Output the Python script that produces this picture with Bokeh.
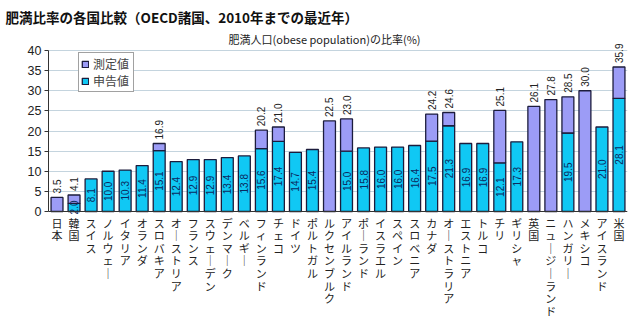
import math
from bokeh.plotting import figure
from bokeh.models import (ColumnDataSource, Range1d, FactorRange, Label, LabelSet,
                          Legend, LegendItem)
from bokeh.embed import file_html
from bokeh.resources import INLINE
from bokeh.core.properties import value

countries = ["日本", "韓国", "スイス", "ノルウェー", "イタリア", "オランダ", "スロバキア",
             "オーストリア", "フランス", "スウェーデン", "デンマーク", "ベルギー", "フィンランド",
             "チェコ", "ドイツ", "ポルトガル", "ルクセンブルク", "アイルランド", "ポーランド",
             "イスラエル", "スペイン", "スロベニア", "カナダ", "オーストラリア", "エストニア",
             "トルコ", "チリ", "ギリシャ", "英国", "ニュージーランド", "ハンガリー", "メキシコ",
             "アイスランド", "米国"]
# 申告値 (self-reported)
reported = [None, 2.0, 8.1, 10.0, 10.3, 11.4, 15.1, 12.4, 12.9, 12.9, 13.4, 13.8, 15.6,
            17.4, 14.7, 15.4, None, 15.0, 15.8, 16.0, 16.0, 16.4, 17.5, 21.3, 16.9,
            16.9, 12.1, 17.3, None, None, 19.5, None, 21.0, 28.1]
# 測定値 (measured)
measured = [3.5, 4.1, None, None, None, None, 16.9, None, None, None, None, None, 20.2,
            21.0, None, None, 22.5, 23.0, None, None, None, None, 24.2, 24.6, None,
            None, 25.1, None, 26.1, 27.8, 28.5, 30.0, None, 35.9]
y_ticks = [0, 5, 10, 15, 20, 25, 30, 35, 40]

title_text = "肥満比率の各国比較（OECD諸国、2010年までの最近年）"
subtitle_text = "肥満人口(obese population)の比率(%)"

CYAN = "#10c8f4"
PURPLE = "#9c9cf6"
EDGE = "#1c1c3c"
JP = "Noto Sans CJK JP"

# ---- layout (pixels) ----
W, H = 640, 324
LEFT, RIGHT = 48, 13
FRAME_TOP = 28          # frame top (canvas px)
Y40_PX, Y0_PX = 50, 211  # canvas px of value 40 and 0
ppu = (Y0_PX - Y40_PX) / 40.0
y_hi = 40 + (Y40_PX - FRAME_TOP) / ppu
y_lo = -(H - Y0_PX) / ppu


def px_to_y(py):
    return (Y0_PX - py) / ppu


rep_src = ColumnDataSource(dict(
    x=[c for c, r in zip(countries, reported) if r is not None],
    top=[r for r in reported if r is not None],
    mid=[r / 2 for r in reported if r is not None],
    lab=["%.1f" % r for r in reported if r is not None],
))
mea_src = ColumnDataSource(dict(
    x=[c for c, m in zip(countries, measured) if m is not None],
    bottom=[(r if r is not None else 0) for r, m in zip(reported, measured) if m is not None],
    top=[m for m in measured if m is not None],
    lab=["%.1f" % m for m in measured if m is not None],
))

# vertical category labels: one glyph per character (vertical writing)
cx, cy, ct = [], [], []
for c in countries:
    for k, ch in enumerate(c.replace("ー", "｜")):
        cx.append(c)
        cy.append(px_to_y(Y0_PX + 11 + k * 12.6))
        ct.append(ch)
char_src = ColumnDataSource(dict(x=cx, y=cy, t=ct))

p = figure(width=W, height=H, x_range=FactorRange(*countries),
           y_range=Range1d(y_lo, y_hi), output_backend="svg", toolbar_location=None,
           min_border_left=LEFT, min_border_right=RIGHT, min_border_top=FRAME_TOP,
           min_border_bottom=0)
p.outline_line_color = None
p.background_fill_color = "white"

cyan_r = p.vbar(x="x", top="top", bottom=0, width=0.7, source=rep_src,
                fill_color=CYAN, line_color=EDGE, line_width=1.3)
purple_r = p.vbar(x="x", top="top", bottom="bottom", width=0.7, source=mea_src,
                  fill_color=PURPLE, line_color=EDGE, line_width=1.3)

p.text(x="x", y="mid", text="lab", source=rep_src,
       angle=math.pi / 2, text_align="center", text_baseline="middle",
       text_font=value("Liberation Sans"), text_font_size="10px", text_color="#0a2a60")
p.add_layout(LabelSet(x="x", y="top", text="lab", source=mea_src, angle=math.pi / 2,
                      y_offset=4, text_align="left", text_baseline="middle",
                      text_font=value("Liberation Sans"), text_font_size="10px",
                      text_color="#222222"))

p.text(x="x", y="y", text="t", source=char_src, text_align="center",
       text_baseline="middle", text_font=value(JP), text_font_size="11px",
       text_color="#222222")

# axes
p.yaxis.ticker = y_ticks
p.yaxis.bounds = (0, 40)
p.yaxis.major_label_text_font = "Liberation Sans"
p.yaxis.major_label_text_font_size = "12.5px"
p.yaxis.major_label_text_color = "#222222"
p.yaxis.axis_line_color = "#333333"
p.yaxis.major_tick_line_color = "#333333"
p.yaxis.major_tick_out = 4
p.yaxis.major_tick_in = 0
p.yaxis.minor_tick_line_color = None
p.yaxis.major_label_standoff = 3

p.xaxis.fixed_location = 0
p.xaxis.major_label_text_font_size = "0px"
p.xaxis.major_label_text_alpha = 0
p.xaxis.major_tick_line_color = None
p.xaxis.axis_line_color = "#333333"
p.xaxis.group_text_font_size = "0px"

p.xgrid.grid_line_color = None
p.ygrid.grid_line_color = "#c4d4de"
p.ygrid.grid_line_width = 1

legend = Legend(items=[LegendItem(label="測定値", renderers=[purple_r]),
                       LegendItem(label="申告値", renderers=[cyan_r])],
                location=(30, H - 92), label_text_font=JP, label_text_font_size="12px",
                glyph_width=8, glyph_height=8, label_height=12, label_width=38,
                label_standoff=4, spacing=0, padding=2, margin=0,
                border_line_color="#444444", border_line_width=1,
                background_fill_color="white", background_fill_alpha=1.0)
p.add_layout(legend)

p.title.text = title_text
p.title.align = "left"
p.title.offset = -43
p.title.text_font = JP
p.title.text_font_size = "13.5px"
p.title.text_font_style = "bold"
p.title.text_color = "#111111"
p.title.standoff = 3

p.add_layout(Label(x=(324 - LEFT) / ((W - LEFT - RIGHT) / len(countries)),
                   y=px_to_y(38), text=subtitle_text,
                   text_font=JP, text_font_size="11px",
                   text_baseline="middle", text_align="center", text_color="#222222"))

open("out.html", "w").write(file_html(p, INLINE))
